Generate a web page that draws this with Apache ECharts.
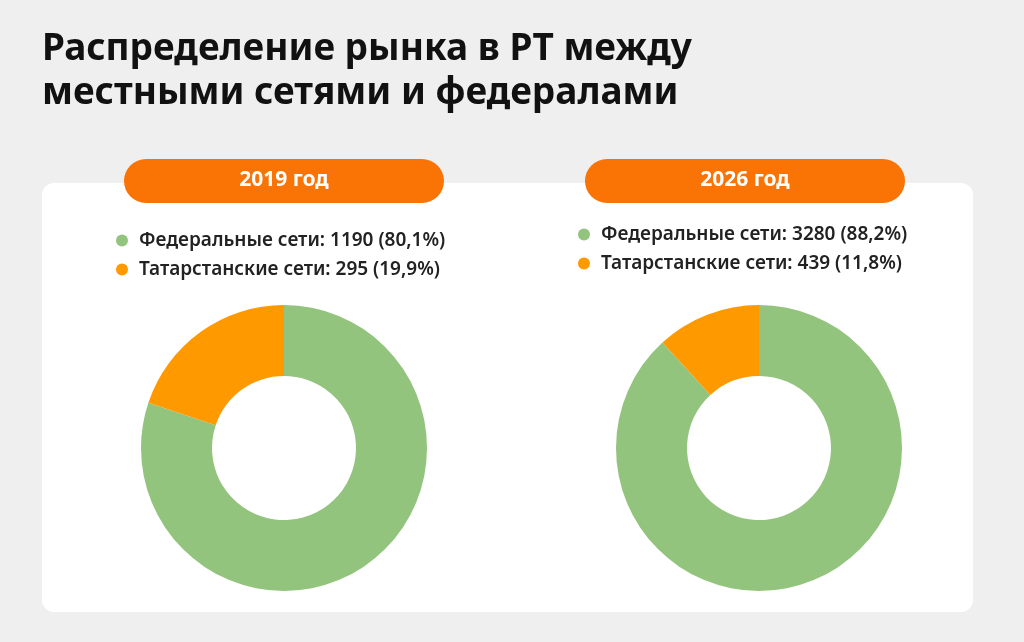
<!DOCTYPE html>
<html>
<head>
<meta charset="utf-8">
<script src="https://cdn.jsdelivr.net/npm/echarts@6/dist/echarts.min.js"></script>
<style>
  html, body { margin: 0; padding: 0; background: #efefef; }
  #main { width: 1024px; height: 642px; }
</style>
</head>
<body>
<div id="main"></div>
<script>
var chartTitle = 'Распределение рынка в РТ между\nместными сетями и федералами'
var categories = ['Федеральные сети', 'Татарстанские сети']
var years = ['2019 год', '2026 год']
var values2019 = [1190, 295]
var values2026 = [3280, 439]
var colors = ['#93c47d', '#ff9900']

var myChart = echarts.init(document.getElementById('main'))

var font = '"Noto Sans", "Open Sans", sans-serif'

// подпись легенды: "Название: значение (доля%)"
function legendText(values) {
    var total = values.reduce(function (a, b) { return a + b }, 0)
    return function (name) {
        var v = values[categories.indexOf(name)]
        var pct = (v / total * 100).toFixed(1).replace('.', ',')
        return name + ': ' + v + ' (' + pct + '%)'
    }
}

function pieData(values) {
    return categories.map(function (c, i) {
        return { name: c, value: values[i], itemStyle: { color: colors[i] } }
    })
}

function pill(cx, text) {
    return {
        type: 'group',
        children: [{
            type: 'rect',
            shape: { x: cx - 160, y: 159, width: 320, height: 44, r: 22 },
            style: { fill: '#fa7305' }
        }, {
            type: 'text',
            x: cx, y: 180,
            style: {
                text: text, fill: '#fff', font: 'bold 21px ' + font,
                textAlign: 'center', textVerticalAlign: 'middle'
            }
        }]
    }
}

function legendFor(values, left, top) {
    return {
        data: categories,
        orient: 'vertical',
        left: left,
        top: top,
        icon: 'circle',
        itemWidth: 24,
        itemHeight: 12,
        itemGap: 10,
        selectedMode: false,
        formatter: legendText(values),
        textStyle: { fontFamily: font, fontSize: 19, fontWeight: 600, color: '#222' }
    }
}

var options = {
    backgroundColor: '#efefef',
    animation: false,
    title: {
        text: chartTitle,
        left: 37,
        top: 22,
        textStyle: {
            fontFamily: font,
            fontSize: 37,
            fontWeight: 'bold',
            color: '#111',
            lineHeight: 44
        }
    },
    graphic: [{
        type: 'rect',
        z: -10,
        shape: { x: 42, y: 183, width: 931, height: 429, r: 12 },
        style: { fill: '#fff' }
    }, pill(284, years[0]), pill(745, years[1])],
    legend: [legendFor(values2019, 111, 226), legendFor(values2026, 573, 220)],
    series: [{
        name: years[0],
        type: 'pie',
        center: [284, 448],
        radius: [72, 143],
        startAngle: 90,
        label: { show: false },
        labelLine: { show: false },
        emphasis: { disabled: true },
        data: pieData(values2019)
    }, {
        name: years[1],
        type: 'pie',
        center: [759, 448],
        radius: [72, 143],
        startAngle: 90,
        label: { show: false },
        labelLine: { show: false },
        emphasis: { disabled: true },
        data: pieData(values2026)
    }]
}

myChart.setOption(options)
</script>
</body>
</html>
